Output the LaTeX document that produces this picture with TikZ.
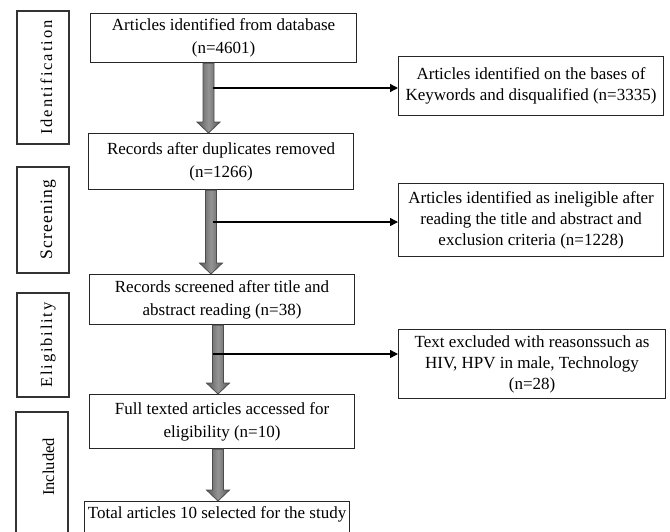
\documentclass[tikz,border=0pt]{standalone}
\usepackage{fontspec}
\setmainfont{Liberation Serif}
\usetikzlibrary{arrows.meta,calc,positioning}

\newcommand{\boxfont}{\fontsize{17}{23}\selectfont}
\newcommand{\sidefont}{\fontsize{17}{21}\selectfont}
\newcommand{\stagefont}{\fontsize{16.5}{20}\selectfont}

% gray block arrow from one box down to the next: x, upper node, lower node
\newcommand{\blockdown}[3]{%
  \coordinate (ta) at (#1,0 |- #2.south);
  \coordinate (tb) at (#1,0 |- #3.north);
  \draw[blockarrow] ($(ta)+(-5.5,0)$) -- ($(tb)+(-5.5,-11)$) -- ($(tb)+(-11.5,-11)$) -- (tb)
    -- ($(tb)+(11.5,-11)$) -- ($(tb)+(5.5,-11)$) -- ($(ta)+(5.5,0)$) -- cycle;}

\tikzset{
  flowbox/.style={draw=black!85, line width=1.1pt, align=center, inner sep=0pt,
    anchor=north west, font=\boxfont},
  sidebox/.style={flowbox, font=\sidefont},
  stagebox/.style={draw=black!80, line width=1.1pt, rotate=90, inner sep=0pt,
    minimum height=52pt, text height=18pt, text depth=0pt, font=\stagefont},
  blockarrow/.style={draw=black!70, line width=0.8pt, left color=black!65,
    right color=black!65, middle color=black!42},
  branch/.style={line width=1.4pt, -{Triangle[length=8pt,width=8pt]}}
}

\begin{document}
\begin{tikzpicture}[x=1pt,y=-1pt]
            \useasboundingbox (0,0) rectangle (670,531);
            \clip (0,0) rectangle (670,531);

            % --- Stages (left column) ---
            \node[stagebox, minimum width=133pt] (ident) at (43,77.5)
                {\addfontfeature{LetterSpace=12}Identification};
            \node[stagebox, minimum width=106pt] (screen) at (43,220)
                {\fontsize{17.5}{20}\selectfont\addfontfeature{LetterSpace=7}Screening};
            \node[stagebox, minimum width=104pt] (elig) at (43,345)
                {\addfontfeature{LetterSpace=11}Eligibility};
            \node[stagebox, minimum width=133pt, text height=24pt] (incl) at (42,478.5)
                {\hspace*{23pt}Included};

            % --- Main flow ---
            \node[flowbox, minimum width=266pt, minimum height=49pt] (db) at (90,13)
                {Articles identified from database\\(n=4601)};
            \node[flowbox, minimum width=265pt, minimum height=56pt] (dup) at (88,133)
                {Records after duplicates removed\\(n=1266)};
            \node[flowbox, minimum width=265pt, minimum height=50pt] (screened) at (89,274)
                {Records screened after title and\\abstract reading (n=38)};
            \node[flowbox, minimum width=265pt, minimum height=54pt] (full) at (89,394)
                {Full texted articles accessed for\\eligibility (n=10)};
            \node[flowbox, minimum width=265pt, inner ysep=5pt, text depth=30pt] (total) at (84,501)
                {Total articles 10 selected for the study};

            % --- Excluded records (right column) ---
            \node[sidebox, minimum width=265pt, minimum height=59pt] (keyw) at (398,56)
                {Articles identified on the bases of\\Keywords and disqualified (n=3335)};
            \node[sidebox, minimum width=265pt, minimum height=73pt] (inelig) at (398,183)
                {Articles identified as ineligible after\\reading the title and abstract and\\exclusion criteria (n=1228)};
            \node[sidebox, minimum width=267pt, minimum height=69pt] (reason) at (398,329)
                {Text excluded with reasonssuch as\\HIV, HPV in male, Technology\\(n=28)};

            % --- Block arrows ---
            \blockdown{208.5}{db}{dup}
            \blockdown{211}{dup}{screened}
            \blockdown{218}{screened}{full}
            \blockdown{218}{full}{total}

            % --- Branches to the excluded boxes ---
            \coordinate (s1) at (213,88);
            \coordinate (s2) at (213,222);
            \coordinate (s3) at (213,354);
            \draw[branch] (s1) -- (s1 -| keyw.west);
            \draw[branch] (s2) -- (s2 -| inelig.west);
            \draw[branch] (s3) -- (s3 -| reason.west);
\end{tikzpicture}
\end{document}
